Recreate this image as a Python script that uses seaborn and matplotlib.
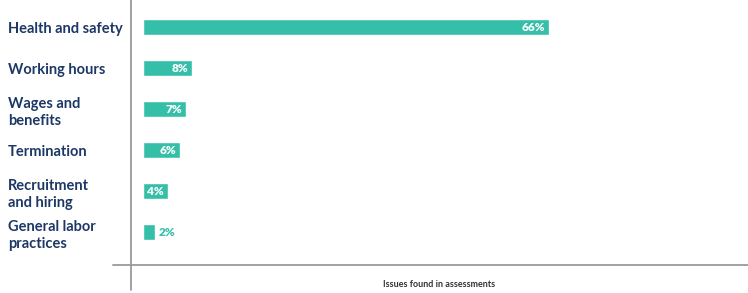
import seaborn as sns
import matplotlib.pyplot as plt
import pandas as pd

categories = ["Health and safety", "Working hours", "Wages and\nbenefits",
              "Termination", "Recruitment\nand hiring", "General labor\npractices"]
values = [66, 8, 7, 6, 4, 2]
value_labels = ["66%", "8%", "7%", "6%", "4%", "2%"]

TEAL = "#35bfa9"
NAVY = "#1d3866"
GREY = "#9a9a9a"

sns.set_style("white")
plt.rcParams["font.family"] = ["Lato", "DejaVu Sans"]

df = pd.DataFrame({"issue": categories, "pct": values})

fig = plt.figure(figsize=(7.48, 2.93), dpi=100)
W, H = 748, 293
ax = fig.add_axes([131 / W, (H - 265) / H, (W - 131) / W, 265 / H])

sns.barplot(data=df, y="issue", x="pct", orient="h", color=TEAL,
            width=0.38, saturation=1, ax=ax)

ax.set_xlim(-1.95, 98.4)
ax.set_ylim(5.80, -0.66)

for i, (v, lab) in enumerate(zip(values, value_labels)):
    if v >= 4:
        ax.text(v - 0.6, i, lab, ha="right", va="center", color="white",
                fontsize=8.5, fontweight="heavy")
    else:
        ax.text(v + 0.6, i, lab, ha="left", va="center", color=TEAL,
                fontsize=8.5, fontweight="heavy")

ax.set_xticks([])
ax.set_ylabel("")
ax.tick_params(axis="y", length=0, pad=123 * 0.72)
for t in ax.get_yticklabels():
    t.set_ha("left")
    t.set_color(NAVY)
    t.set_fontsize(10.5)
    t.set_fontweight("bold")
    t.set_linespacing(1.3)

ax.set_xlabel("Issues found in assessments", fontsize=6.5, fontweight="bold",
              color="#333333", labelpad=11)

for s in ax.spines.values():
    s.set_visible(False)

# axis lines extend past the plot corner as in the reference
fig.add_artist(plt.Line2D([131 / W, 131 / W], [(H - 290) / H, 1.0], color=GREY,
                          lw=1.3, transform=fig.transFigure))
fig.add_artist(plt.Line2D([113 / W, 1.0], [(H - 265) / H, (H - 265) / H],
                          color=GREY, lw=1.3, transform=fig.transFigure))

fig.savefig("out.png", dpi=100)
